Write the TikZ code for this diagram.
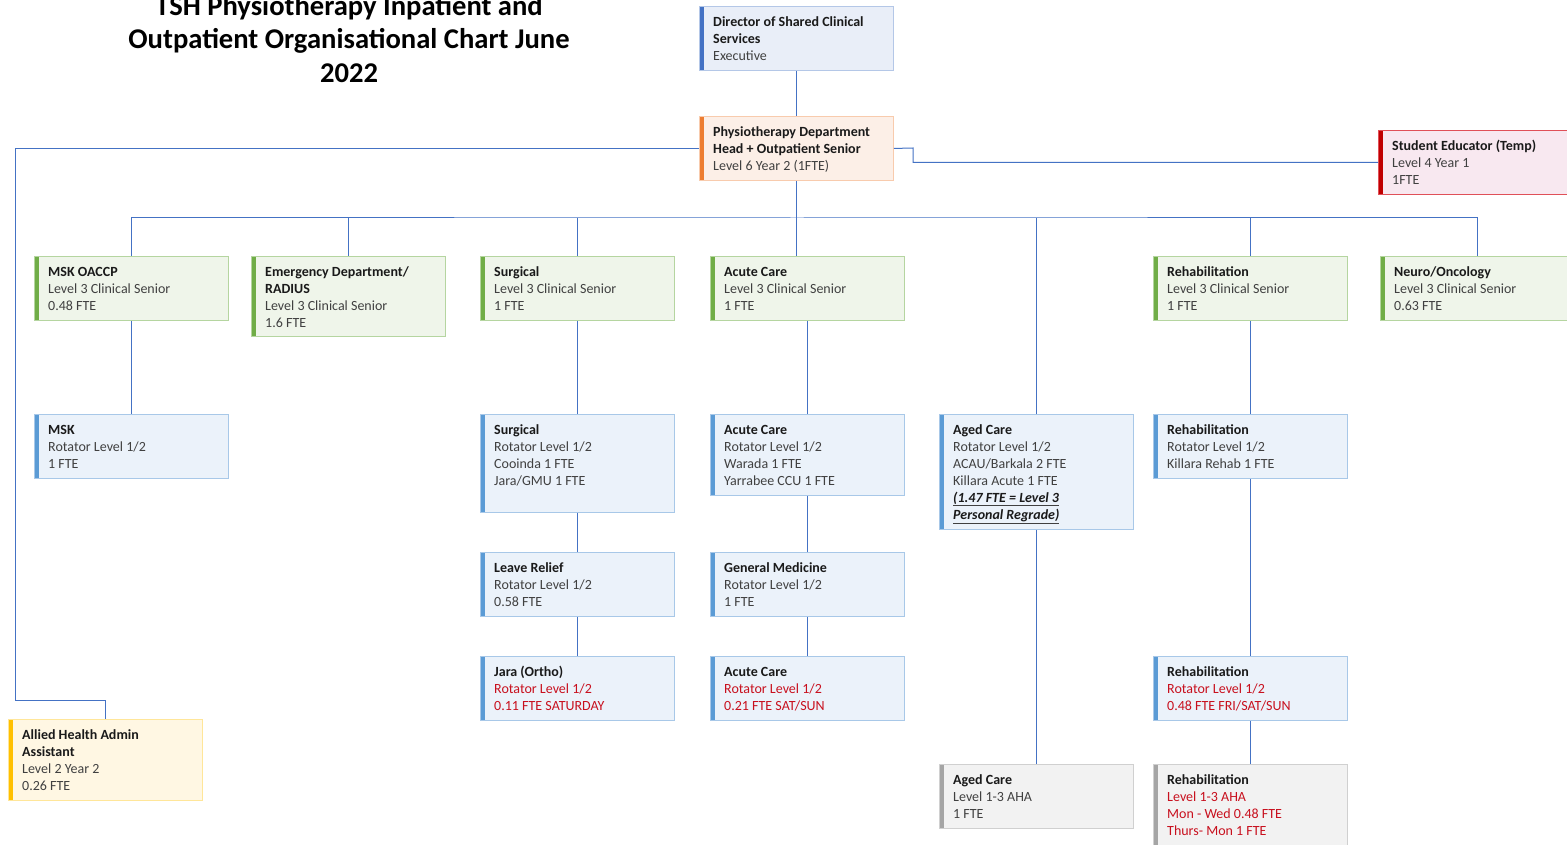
\documentclass[tikz,border=0pt]{standalone}
\usepackage{fontspec}
\setmainfont{Carlito}
\definecolor{conc}{HTML}{4472C4}
\definecolor{tblack}{HTML}{1A1A1A}
\definecolor{tgray}{HTML}{404040}
\definecolor{tred}{HTML}{C8101E}
\definecolor{dkfill}{HTML}{E9EEF8}\definecolor{dkborder}{HTML}{B4C7E7}\definecolor{dkbar}{HTML}{4472C4}
\definecolor{orfill}{HTML}{FCEFE7}\definecolor{orborder}{HTML}{F8CBAD}\definecolor{orbar}{HTML}{ED7D31}
\definecolor{rdfill}{HTML}{F8E8F0}\definecolor{rdborder}{HTML}{E05058}\definecolor{rdbar}{HTML}{C00000}
\definecolor{grfill}{HTML}{EFF5EA}\definecolor{grborder}{HTML}{B5D5A0}\definecolor{grbar}{HTML}{70AD47}
\definecolor{blfill}{HTML}{EBF2FA}\definecolor{blborder}{HTML}{A8C8E8}\definecolor{blbar}{HTML}{5B9BD5}
\definecolor{yefill}{HTML}{FFF7E3}\definecolor{yeborder}{HTML}{FFE699}\definecolor{yebar}{HTML}{FFC000}
\definecolor{gyfill}{HTML}{F2F2F2}\definecolor{gyborder}{HTML}{D0D0D0}\definecolor{gybar}{HTML}{A5A5A5}
\tikzset{
  con/.style={draw=conc, line width=1pt},
  obox/.style={draw=#1border, fill=#1fill, line width=0.9pt, inner sep=0pt,
    path picture={\fill[#1bar] (path picture bounding box.north west) rectangle ([xshift=5pt]path picture bounding box.south west);}},
  txt/.style={anchor=north west, align=left, inner sep=0pt, font=\fontsize{14}{17}\selectfont, text=tgray},
}
\newcommand\hd[1]{{\bfseries\color{tblack}#1}}
\newcommand\rd[1]{\textcolor{tred}{#1}}
\newcommand\orgbox[7]{%
  \node[obox=#2, minimum width=#5pt, minimum height=#6pt, anchor=north west] (#1) at (#3,#4) {};
  \node[txt] (#1-t) at ([xshift=14pt,yshift=-8pt]#1.north west) {\strut#7};}
\begin{document}
\begin{tikzpicture}[x=1pt,y=-1pt]
\fill[white] (0,0) rectangle (1567,845);
\useasboundingbox (0,0) rectangle (1567,845);

\node[anchor=north, align=center, inner sep=0pt, font=\fontsize{28.6}{33.5}\selectfont\bfseries, text=black] (title) at (349,-8.5)
  {\strut TSH Physiotherapy Inpatient and\\Outpatient Organisational Chart June\\2022};

\orgbox{dir}{dk}{699}{6}{194}{64}{\hd{Director of Shared Clinical}\\\hd{Services}\\Executive}
\orgbox{head}{or}{699}{116}{194}{64}{\hd{Physiotherapy Department}\\\hd{Head + Outpatient Senior}\\Level 6 Year 2 (1FTE)}
\orgbox{stud}{rd}{1378}{130}{194}{64}{\hd{Student Educator (Temp)}\\Level 4 Year 1\\1FTE}

\orgbox{msko}{gr}{34}{256}{194}{64}{\hd{MSK OACCP}\\Level 3 Clinical Senior\\0.48 FTE}
\orgbox{emerg}{gr}{251}{256}{194}{80}{\hd{Emergency Department/}\\\hd{RADIUS}\\Level 3 Clinical Senior\\1.6 FTE}
\orgbox{surg1}{gr}{480}{256}{194}{64}{\hd{Surgical}\\Level 3 Clinical Senior\\1 FTE}
\orgbox{acute1}{gr}{710}{256}{194}{64}{\hd{Acute Care}\\Level 3 Clinical Senior\\1 FTE}
\orgbox{rehab1}{gr}{1153}{256}{194}{64}{\hd{Rehabilitation}\\Level 3 Clinical Senior\\1 FTE}
\orgbox{neuro}{gr}{1380}{256}{194}{64}{\hd{Neuro/Oncology}\\Level 3 Clinical Senior\\0.63 FTE}

\orgbox{msk2}{bl}{34}{414}{194}{64}{\hd{MSK}\\Rotator Level 1/2\\1 FTE}
\orgbox{surg2}{bl}{480}{414}{194}{98}{\hd{Surgical}\\Rotator Level 1/2\\Cooinda 1 FTE\\Jara/GMU 1 FTE}
\orgbox{acute2}{bl}{710}{414}{194}{81}{\hd{Acute Care}\\Rotator Level 1/2\\Warada 1 FTE\\Yarrabee CCU 1 FTE}
\orgbox{aged2}{bl}{939}{414}{194}{115}{\hd{Aged Care}\\Rotator Level 1/2\\ACAU/Barkala 2 FTE\\Killara Acute 1 FTE\\%
  \underline{\textbf{\textit{\color{tblack}(1.47 FTE = Level 3}}}\\\underline{\textbf{\textit{\color{tblack}Personal Regrade)}}}}
\orgbox{rehab2}{bl}{1153}{414}{194}{64}{\hd{Rehabilitation}\\Rotator Level 1/2\\Killara Rehab 1 FTE}

\orgbox{leave}{bl}{480}{552}{194}{64}{\hd{Leave Relief}\\Rotator Level 1/2\\0.58 FTE}
\orgbox{genmed}{bl}{710}{552}{194}{64}{\hd{General Medicine}\\Rotator Level 1/2\\1 FTE}

\orgbox{jara}{bl}{480}{656}{194}{64}{\hd{Jara (Ortho)}\\\rd{Rotator Level 1/2}\\\rd{0.11 FTE SATURDAY}}
\orgbox{acute4}{bl}{710}{656}{194}{64}{\hd{Acute Care}\\\rd{Rotator Level 1/2}\\\rd{0.21 FTE SAT/SUN}}
\orgbox{rehab4}{bl}{1153}{656}{194}{64}{\hd{Rehabilitation}\\\rd{Rotator Level 1/2}\\\rd{0.48 FTE FRI/SAT/SUN}}

\orgbox{allied}{ye}{8}{719}{194}{81}{\hd{Allied Health Admin}\\\hd{Assistant}\\Level 2 Year 2\\0.26 FTE}
\orgbox{aged5}{gy}{939}{764}{194}{64}{\hd{Aged Care}\\Level 1-3 AHA\\1 FTE}
\orgbox{rehab5}{gy}{1153}{764}{194}{82}{\hd{Rehabilitation}\\\rd{Level 1-3 AHA}\\\rd{Mon - Wed 0.48 FTE}\\\rd{Thurs- Mon 1 FTE}}

% connectors
\coordinate (bus) at (797,218);
\coordinate (lft) at (15,700);
\coordinate (rgt) at (913,148);
\draw[con] (dir.south) -- (head.north);
\draw[con] (head.west) -| (lft) -| (allied.north);
\draw[con] (head.east) -- (rgt) |- (stud.west);
\draw[con] (head.south) -- (head.south |- acute1.north);
\draw[con] (msko.north) |- (bus) -| (neuro.north);
\draw[con] (emerg.north) -- (emerg.north |- bus);
\draw[con] (surg1.north) -- (surg1.north |- bus);
\draw[con] (aged2.north) -- (aged2.north |- bus);
\draw[con] (rehab1.north) -- (rehab1.north |- bus);
\draw[con] (msko.south) -- (msk2.north);
\draw[con] (surg1.south) -- (surg2.north);
\draw[con] (surg2.south) -- (leave.north);
\draw[con] (leave.south) -- (jara.north);
\draw[con] (acute1.south) -- (acute2.north);
\draw[con] (acute2.south) -- (genmed.north);
\draw[con] (genmed.south) -- (acute4.north);
\draw[con] (aged2.south) -- (aged5.north);
\draw[con] (rehab1.south) -- (rehab2.north);
\draw[con] (rehab2.south) -- (rehab4.north);
\draw[con] (rehab4.south) -- (rehab5.north);
\end{tikzpicture}
\end{document}
